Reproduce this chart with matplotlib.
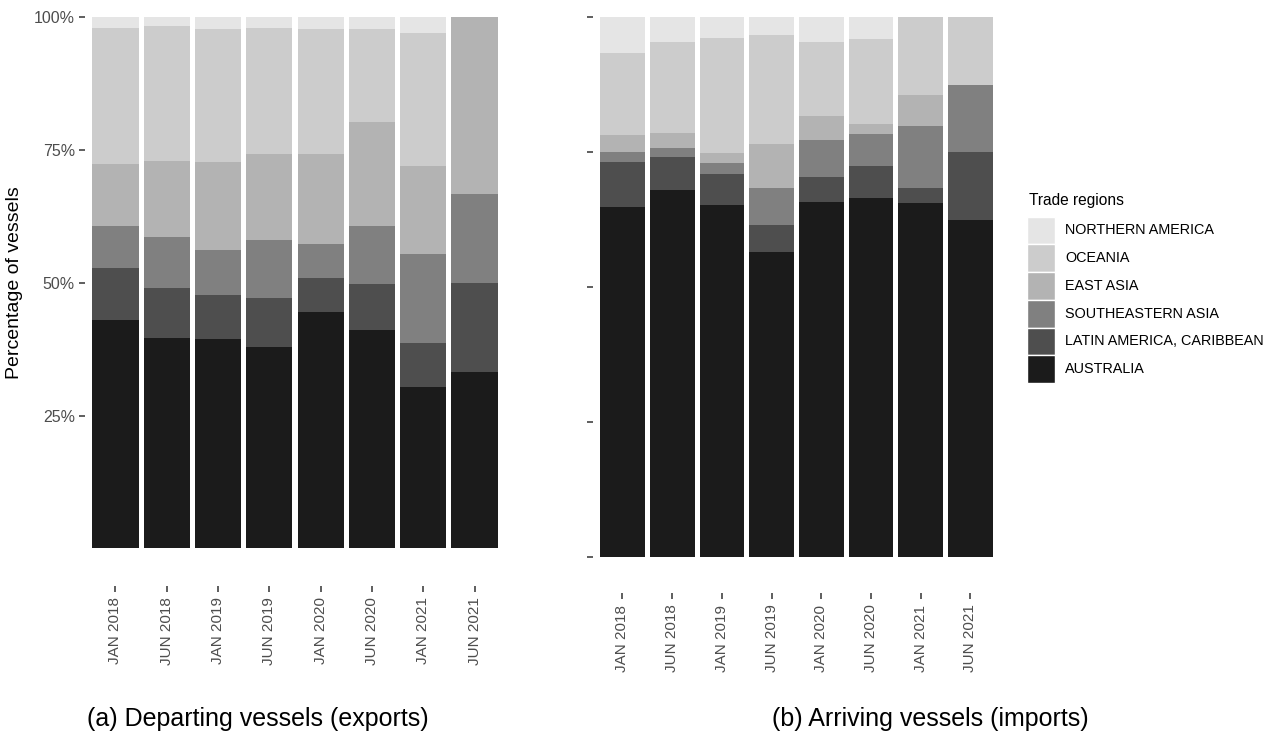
import matplotlib
matplotlib.use('Agg')
import matplotlib.pyplot as plt
import numpy as np
from matplotlib.patches import Rectangle

plt.rcParams['font.family'] = ['Liberation Sans', 'DejaVu Sans']

periods = ['JAN 2018', 'JUN 2018', 'JAN 2019', 'JUN 2019',
           'JAN 2020', 'JUN 2020', 'JAN 2021', 'JUN 2021']

# stacking order, bottom to top
regions = ['AUSTRALIA', 'LATIN AMERICA, CARIBBEAN', 'SOUTHEASTERN ASIA',
           'EAST ASIA', 'OCEANIA', 'NORTHERN AMERICA']
colors = ['#1b1b1b', '#4e4e4e', '#808080', '#b3b3b3', '#cccccc', '#e5e5e5']

# (a) departing vessels, share in %
exp_australia = [43.0, 39.6, 39.5, 37.9, 44.5, 41.1, 30.4, 33.3]
exp_latin     = [9.8, 9.5, 8.2, 9.3, 6.4, 8.7, 8.3, 16.7]
exp_se_asia   = [7.9, 9.6, 8.5, 10.9, 6.4, 10.9, 16.8, 16.7]
exp_east_asia = [11.7, 14.3, 16.6, 16.2, 17.0, 19.6, 16.5, 33.3]
exp_oceania   = [25.6, 25.4, 25.0, 23.7, 23.5, 17.5, 25.1, 0.0]
exp_n_america = [2.0, 1.6, 2.2, 2.0, 2.2, 2.2, 2.9, 0.0]

# (b) arriving vessels, share in %
imp_australia = [64.9, 68.0, 65.3, 56.5, 65.8, 66.5, 65.6, 62.5]
imp_latin     = [8.3, 6.1, 5.7, 5.0, 4.6, 6.0, 2.8, 12.5]
imp_se_asia   = [1.9, 1.7, 2.0, 6.9, 6.9, 5.9, 11.5, 12.5]
imp_east_asia = [3.1, 2.8, 1.9, 8.1, 4.4, 1.9, 5.7, 0.0]
imp_oceania   = [15.2, 16.8, 21.3, 20.2, 13.7, 15.7, 14.4, 12.5]
imp_n_america = [6.6, 4.6, 3.8, 3.3, 4.6, 4.0, 0.0, 0.0]

exports = [exp_australia, exp_latin, exp_se_asia, exp_east_asia, exp_oceania, exp_n_america]
imports = [imp_australia, imp_latin, imp_se_asia, imp_east_asia, imp_oceania, imp_n_america]

W, H = 1277, 731
fig = plt.figure(figsize=(W / 100, H / 100), dpi=100)
ax1 = fig.add_axes([0.0663, 0.2497, 0.3294, 0.7264])
ax2 = fig.add_axes([0.4641, 0.2376, 0.3192, 0.7387])

x = np.arange(len(periods))


def stacked(ax, series, outward):
    bottom = np.zeros(len(periods))
    for vals, c in zip(series, colors):
        vals = np.array(vals)
        ax.bar(x, vals, bottom=bottom, width=0.9, color=c, linewidth=0)
        bottom += vals
    ax.set_xlim(-0.6, len(periods) - 0.4)
    ax.set_ylim(0, 100)
    for s in ax.spines.values():
        s.set_visible(False)
    # ticks sit a bit below the panel, like the original
    ax.spines['bottom'].set_position(('outward', outward))
    ax.set_xticks(x)
    ax.set_xticklabels(periods, rotation=90, fontsize=11, color='#4d4d4d')
    ax.tick_params(axis='both', length=4, width=1.1, color='#333333')
    ax.tick_params(axis='x', pad=4)
    ax.tick_params(axis='y', pad=3)


stacked(ax1, exports, 27)
ax1.set_yticks([25, 50, 75, 100])
ax1.set_yticklabels(['25%', '50%', '75%', '100%'], fontsize=11.5, color='#4d4d4d')
ax1.set_ylabel('Percentage of vessels', fontsize=14, labelpad=8)

stacked(ax2, imports, 26)
ax2.set_yticks([0, 25, 50, 75, 100])
ax2.set_yticklabels([''] * 5)

# legend drawn by hand (ggplot style square keys)
fig.text(1029 / W, 1 - 205 / H, 'Trade regions', fontsize=11.2, ha='left', va='baseline')
key, top0 = 27.75, 216.5
for i, (lab, c) in enumerate(zip(regions[::-1], colors[::-1])):
    top = top0 + i * key
    fig.add_artist(Rectangle((1027 / W, 1 - (top + key) / H), 27.5 / W, key / H,
                             transform=fig.transFigure, facecolor=c,
                             edgecolor='white', linewidth=1))
    fig.text(1065 / W, 1 - (top + key / 2) / H, lab, fontsize=10.4,
             ha='left', va='center')

fig.text(87 / W, 1 - 726 / H, '(a) Departing vessels (exports)',
         fontsize=18, ha='left', va='baseline')
fig.text(772 / W, 1 - 726 / H, '(b) Arriving vessels (imports)',
         fontsize=18, ha='left', va='baseline')

fig.savefig('out.png', dpi=100)
